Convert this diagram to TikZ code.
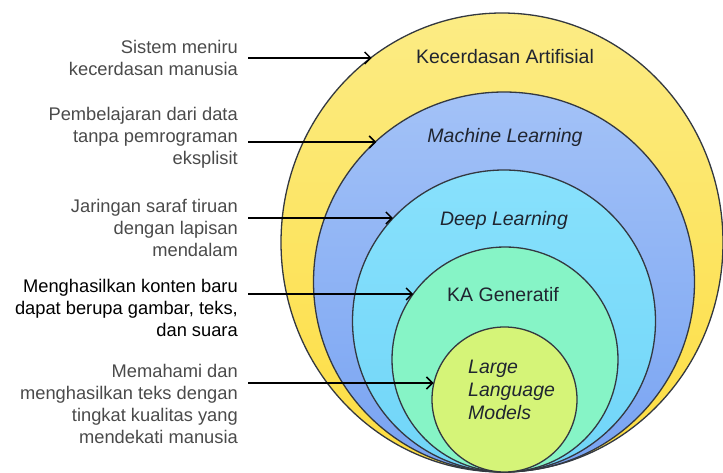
\documentclass[tikz,border=0pt]{standalone}
\usepackage{fontspec}
\setmainfont{Liberation Sans}
\usetikzlibrary{shapes.geometric,arrows.meta}
\definecolor{aitop}{HTML}{FCEC85}
\definecolor{aibot}{HTML}{FDDD40}
\definecolor{mltop}{HTML}{A3C2F7}
\definecolor{mlbot}{HTML}{78A3F2}
\definecolor{dltop}{HTML}{88E1FC}
\definecolor{dlbot}{HTML}{70D5F8}
\definecolor{kafill}{HTML}{86F4C6}
\definecolor{llmfill}{HTML}{D5F478}
\definecolor{ringline}{HTML}{333840}
\definecolor{desccol}{HTML}{4A4A4A}
\definecolor{titlecol}{HTML}{202530}
\begin{document}
\begin{tikzpicture}[x=1pt,y=-1pt,
  ring/.style={ellipse, draw=ringline, line width=1.3pt, inner sep=0pt},
  desc/.style={anchor=east, align=right, inner sep=0pt,
    font=\fontsize{18.3}{22}\selectfont, text=desccol},
  ttl/.style={inner sep=0pt, font=\fontsize{19.5}{23}\selectfont, text=titlecol},
  ittl/.style={ttl, font=\fontsize{19.5}{23}\selectfont\itshape},
  arr/.style={line width=1.5pt, draw=black,
    -{Straight Barb[length=6pt,width=12pt,line width=1.5pt]}}]
\clip (0,0) rectangle (723,473);
% rings
\node[ring, top color=aitop, bottom color=aibot,
  minimum width=442pt, minimum height=459pt] (ai) at (502,242.5) {};
\node[ring, top color=mltop, bottom color=mlbot,
  minimum width=381pt, minimum height=380pt] (ml) at (504,282) {};
\node[ring, top color=dltop, bottom color=dlbot,
  minimum width=303pt, minimum height=302pt] (dl) at (504,321) {};
\node[ring, fill=kafill,
  minimum width=226pt, minimum height=225pt] (ka) at (505,359.5) {};
\node[ring, fill=llmfill,
  minimum width=145pt, minimum height=145pt] (llm) at (504.5,399.5) {};
% ring titles
\node[ttl] (tai) at (505,57) {Kecerdasan Artifisial};
\node[ittl] (tml) at (505,137) {Machine Learning};
\node[ittl] (tdl) at (504,220) {Deep Learning};
\node[ttl] (tka) at (503,295) {KA Generatif};
\node[ittl, anchor=west, align=left] (tllm) at (468,390) {Large\\Language\\Models};
% descriptions
\node[desc] (d1) at (238,58) {Sistem meniru\\kecerdasan manusia};
\node[desc] (d2) at (238,137.5) {Pembelajaran dari data\\tanpa pemrograman\\eksplisit};
\node[desc] (d3) at (238,227.5) {Jaringan saraf tiruan\\dengan lapisan\\mendalam};
\node[desc, text=black] (d4) at (238,307.5) {Menghasilkan konten baru\\dapat berupa gambar, teks,\\dan suara};
\node[desc] (d5) at (238,404) {Memahami dan\\menghasilkan teks dengan\\tingkat kualitas yang\\mendekati manusia};
% arrows
\coordinate (s1) at (248,58);
\coordinate (s2) at (248,142);
\coordinate (s3) at (248,218);
\coordinate (s4) at (248,294);
\coordinate (s5) at (248,383);
\draw[arr] (s1) -- (s1 -| ai.125.5);
\draw[arr] (s2) -- (s2 -| ml.132.5);
\draw[arr] (s3) -- (s3 -| dl.137);
\draw[arr] (s4) -- (s4 -| ka.144.4);
\draw[arr] (s5) -- (s5 -| llm.166.8);
\end{tikzpicture}
\end{document}
